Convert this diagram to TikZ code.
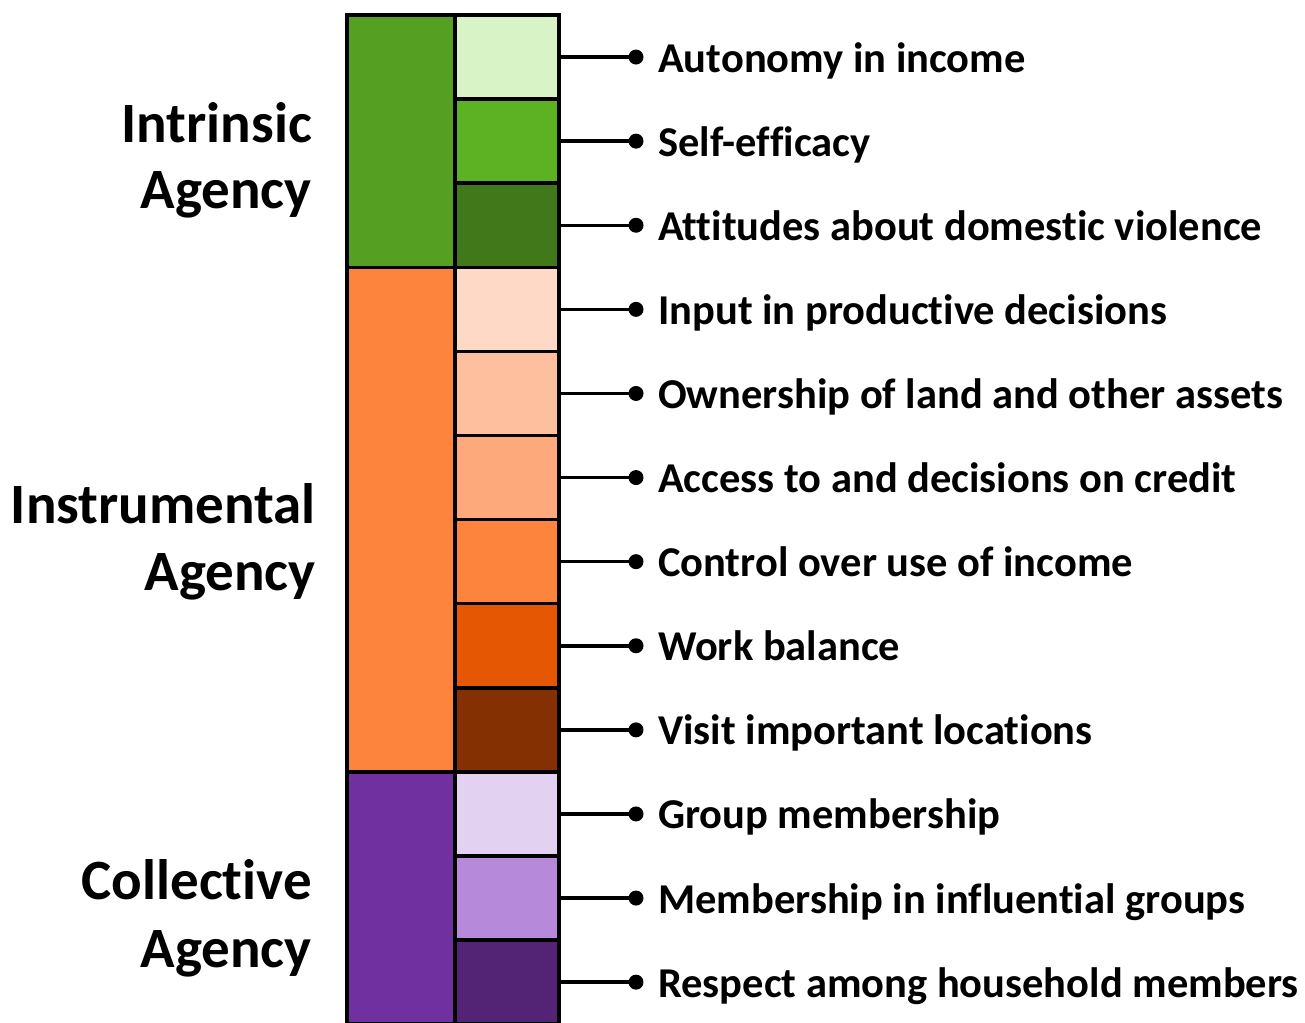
\documentclass[tikz,border=0pt]{standalone}
\usepackage{fontspec}
\setmainfont[Ligatures=NoCommon]{Carlito}
\definecolor{gIn}{HTML}{55A023}
\definecolor{gA}{HTML}{D8F3C6}
\definecolor{gB}{HTML}{5DB224}
\definecolor{gC}{HTML}{41781A}
\definecolor{oIn}{HTML}{FC843C}
\definecolor{oA}{HTML}{FDD9C6}
\definecolor{oB}{HTML}{FDBF9E}
\definecolor{oC}{HTML}{FDA97B}
\definecolor{oD}{HTML}{FC843C}
\definecolor{oE}{HTML}{E65704}
\definecolor{oF}{HTML}{843002}
\definecolor{pIn}{HTML}{7030A0}
\definecolor{pA}{HTML}{E2D1F1}
\definecolor{pB}{HTML}{B789DB}
\definecolor{pC}{HTML}{532375}
\begin{document}
\begin{tikzpicture}[x=1pt,y=-1pt,
  cell/.style={draw=black,line width=3.5pt,inner sep=0pt,outer sep=0pt,
    minimum width=104pt,minimum height=84.1pt},
  groupcell/.style={draw=black,line width=3.5pt,inner sep=0pt,outer sep=0pt,
    minimum width=108pt},
  dot/.style={circle,fill=black,inner sep=0pt,minimum size=15pt},
  link/.style={line width=3.5pt},
  item/.style={anchor=base west,inner sep=0pt,font=\fontsize{42.5}{50}\selectfont\bfseries},
  group/.style={anchor=base east,inner sep=0pt,font=\fontsize{57}{66}\selectfont\bfseries}]
\clip (0,0) rectangle (1305,1022);
\useasboundingbox (0,0) rectangle (1305,1022);

% group columns
\node[groupcell,fill=gIn,minimum height=252.3pt] (gi) at (401,141.15) {};
\node[groupcell,fill=oIn,minimum height=504.6pt] (go) at (401,519.6) {};
\node[groupcell,fill=pIn,minimum height=252.3pt] (gp) at (401,898.05) {};

% indicator cells, connectors and labels
\foreach \i/\c/\t in {
  1/gA/Autonomy in income,
  2/gB/Self-efficacy,
  3/gC/Attitudes about domestic violence,
  4/oA/Input in productive decisions,
  5/oB/Ownership of land and other assets,
  6/oC/Access to and decisions on credit,
  7/oD/Control over use of income,
  8/oE/Work balance,
  9/oF/Visit important locations,
  10/pA/Group membership,
  11/pB/Membership in influential groups,
  12/pC/Respect among household members}{
  \pgfmathsetmacro{\yc}{15+84.1*(\i-0.5)}
  \node[cell,fill=\c] (r\i) at (507,\yc) {};
  \node[dot] (d\i) at (636,\yc) {};
  \draw[link] (r\i.east) -- (d\i.center);
  \node[item] (l\i) at (658,\yc+15) {\t};
}

% group labels
\node[group] (ti1) at (312,142) {Intrinsic};
\node[group] (ti2) at (312,208) {Agency};
\node[group] (to1) at (316,523) {Instrumental};
\node[group] (to2) at (316,590) {Agency};
\node[group] (tp1) at (312,899) {Collective};
\node[group] (tp2) at (312,967) {Agency};
\end{tikzpicture}
\end{document}
